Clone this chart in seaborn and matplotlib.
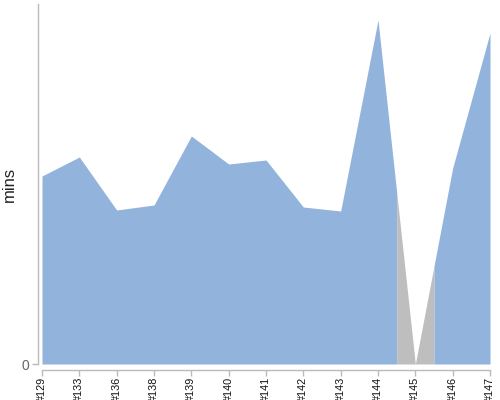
import numpy as np
import seaborn as sns
from matplotlib import pyplot as plt

# build duration per build (mins)
builds = ["#129", "#133", "#136", "#138", "#139", "#140", "#141",
          "#142", "#143", "#144", "#145", "#146", "#147"]
durations = [9.4, 10.35, 7.7, 7.95, 11.4, 10.0, 10.2,
             7.85, 7.65, 17.2, 0.0, 9.8, 16.55]
status = ["ok", "ok", "ok", "ok", "ok", "ok", "ok",
          "ok", "ok", "ok", "failed", "ok", "ok"]

COLORS = {"ok": "#92B3DB", "failed": "#BEBEBE"}

sns.set_theme(style="white")
plt.rcParams["font.family"] = ["Liberation Sans", "DejaVu Sans"]

fig = plt.figure(figsize=(5, 4), dpi=100)
ax = fig.add_axes([0.084, 0.09, 0.896, 0.90])

sns.despine(ax=ax)
ax.spines["left"].set_position(("outward", 3))
ax.spines["bottom"].set_position(("outward", 4))
for s in ("left", "bottom"):
    ax.spines[s].set_color("#BBBBBB")
    ax.spines[s].set_linewidth(1)

x = np.arange(len(builds))
y = np.array(durations, dtype=float)

# each build colours the area half way to its neighbours;
# neighbouring builds with the same status share one polygon
n = len(builds)
runs = []
for i, st in enumerate(status):
    if runs and runs[-1][0] == st:
        runs[-1][2] = i
    else:
        runs.append([st, i, i])
for st, a, b in runs:
    lo = max(a - 0.5, 0)
    hi = min(b + 0.5, n - 1)
    xs = np.concatenate([[lo], x[a:b + 1], [hi]])
    ys = np.interp(xs, x, y)
    ax.fill_between(xs, 0, ys, color=COLORS[st], linewidth=0)

ax.set_xlim(0, n - 1)
ax.set_ylim(0, 18)
ax.set_xticks(x)
ax.set_xticklabels(builds, rotation=90, fontsize=7.8, color="#111111")
ax.set_yticks([0])
ax.set_yticklabels(["0"], fontsize=10, color="#666666")
ax.set_ylabel("mins", fontsize=12, color="#222222")
ax.yaxis.set_label_coords(-0.055, 0.5)

ax.tick_params(axis="both", which="both", length=4, width=1,
               color="#BBBBBB", pad=2)
ax.tick_params(axis="x", bottom=True, pad=1)
ax.tick_params(axis="y", left=True)

plt.savefig("out.png", dpi=100)
